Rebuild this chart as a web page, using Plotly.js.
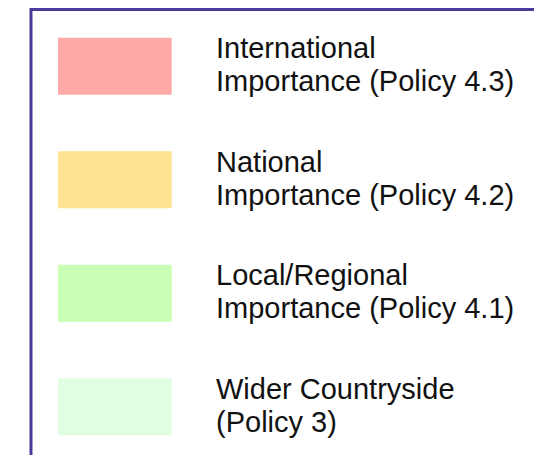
<!DOCTYPE html>
<html>
<head>
<meta charset="utf-8">
<script src="https://cdn.plot.ly/plotly-3.0.1.min.js"></script>
<style>html,body{margin:0;padding:0;background:#fff;}#chart{width:534px;height:455px;}</style>
</head>
<body>
<div id="chart"></div>
<script>
// Legend categories
const categories = ["International Importance (Policy 4.3)", "National Importance (Policy 4.2)", "Local/Regional Importance (Policy 4.1)", "Wider Countryside (Policy 3)"];
const labelLine1 = ["International", "National", "Local/Regional", "Wider Countryside"];
const labelLine2 = ["Importance (Policy 4.3)", "Importance (Policy 4.2)", "Importance (Policy 4.1)", "(Policy 3)"];
const swatchValues = [1, 1, 1, 1];
const swatchColors = ["#FFA8A8", "#FFE391", "#C8FFB4", "#E0FFE0"];

const trace = {
  type: "bar",
  orientation: "h",
  y: categories,
  x: swatchValues,
  base: 0,
  width: 0.502,
  marker: {color: swatchColors, line: {width: 0}},
  hoverinfo: "skip",
  showlegend: false
};

const textFont = {family: "Liberation Sans, Arial, sans-serif", size: 29, color: "#111"};
const annotations = [];
categories.forEach((c, i) => {
  annotations.push({x: 1.371, y: c, xref: "x", yref: "y", xanchor: "left", yanchor: "middle",
    text: labelLine1[i], showarrow: false, yshift: 18, font: textFont});
  annotations.push({x: 1.371, y: c, xref: "x", yref: "y", xanchor: "left", yanchor: "middle",
    text: labelLine2[i], showarrow: false, yshift: -15, font: textFont});
});

const layout = {
  width: 534, height: 455,
  margin: {l: 0, r: 0, t: 0, b: 0},
  paper_bgcolor: "#fff", plot_bgcolor: "#fff",
  xaxis: {range: [-0.510, 4.187], visible: false, fixedrange: true},
  yaxis: {type: "category", categoryorder: "array", categoryarray: categories,
          range: [3.425, -0.584], visible: false, fixedrange: true},
  annotations: annotations,
  shapes: [{type: "path", xref: "paper", yref: "paper",
            path: "M 0.05805 0 L 0.05805 0.9791 L 1 0.9791",
            line: {color: "#4A3A9C", width: 3}}]
};

Plotly.newPlot("chart", [trace], layout, {staticPlot: true, displayModeBar: false});
</script>
</body>
</html>
